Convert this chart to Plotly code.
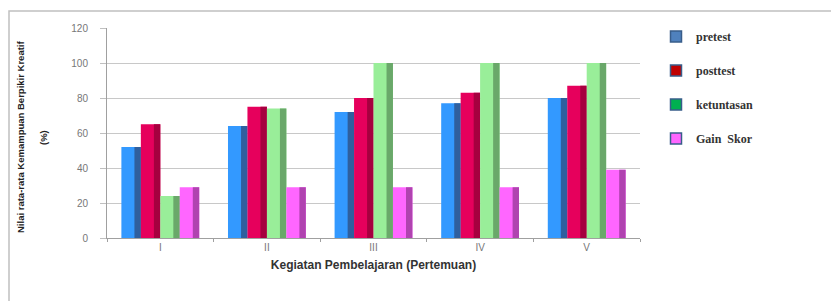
import plotly.graph_objects as go

categories = ["I", "II", "III", "IV", "V"]
pretest = [52, 64, 72, 77, 80]
posttest = [65, 75, 80, 83, 87]
ketuntasan = [24, 74, 100, 100, 100]
gain_skor = [29, 29, 29, 29, 39]
series_names = ["pretest", "posttest", "ketuntasan", "Gain  Skor"]
y_ticks = [0, 20, 40, 60, 80, 100, 120]

bar_colors = ["#3399ff", "#e6005c", "#99ee99", "#ff66ff"]
shade_colors = ["#2f5f9e", "#a6003f", "#6aa86a", "#b043b0"]
legend_colors = ["#4f81bd", "#c00000", "#00b050", "#ff66ff"]

GROUP_W = 0.73
BAR_W = GROUP_W / 4
SHADE_FRAC = 0.33

fig = go.Figure()
for i, (name, vals, col, scol) in enumerate(zip(series_names, [pretest, posttest, ketuntasan, gain_skor],
                                                 bar_colors, shade_colors)):
    off = -GROUP_W / 2 + i * BAR_W
    fig.add_trace(go.Bar(x=categories, y=vals, name=name, offset=off, width=BAR_W,
                         marker=dict(color=col, line=dict(width=0)), showlegend=False))
    fig.add_trace(go.Bar(x=categories, y=vals, name=name, offset=off + BAR_W * (1 - SHADE_FRAC),
                         width=BAR_W * SHADE_FRAC, hoverinfo="skip",
                         marker=dict(color=scol, line=dict(width=0)), showlegend=False))
for i, (name, col) in enumerate(zip(series_names, legend_colors)):
    fig.add_trace(go.Scatter(x=[None], y=[None], mode="markers", name=name, legendgroup="g%d" % i,
                             marker=dict(symbol="square", size=11, color=col,
                                         line=dict(color="#385d8a", width=1.5))))

# page offset of 8px (body margin) is accounted for
OFF = 8
W, H = 839 - OFF, 301 - OFF
PL, PR, PT, PB = 107, 640, 28, 238  # plot area in page pixels
L, R, T, B = PL - OFF, W - (PR - OFF), PT - OFF, H - (PB - OFF)
PW, PH = PR - PL, PB - PT


def px(x):
    return (x - PL) / PW


def py(y):
    return (PB - y) / PH


fig.update_layout(
    width=W, height=H,
    margin=dict(l=L, r=R, t=T, b=B),
    paper_bgcolor="white", plot_bgcolor="white",
    barmode="overlay",
    font=dict(family="Liberation Sans, Arial, sans-serif", color="#555555"),
    legend=dict(x=px(656), y=py(22), xanchor="left", yanchor="top",
                font=dict(family="Liberation Serif, Times New Roman, serif", size=12, color="#333333",
                          weight="bold"),
                tracegroupgap=15, bgcolor="rgba(0,0,0,0)"),
    xaxis=dict(showline=True, linecolor="#a0a0a0", ticks="outside", ticklen=3, tickcolor="#a0a0a0",
               tickson="boundaries", tickfont=dict(size=10, color="#777777"),
               title=dict(text="<b>Kegiatan Pembelajaran (Pertemuan)</b>",
                          font=dict(size=12, color="#333333"), standoff=8)),
    yaxis=dict(range=[0, 120], tickvals=y_ticks, showline=True, linecolor="#a0a0a0",
               gridcolor="#c8c8c8", gridwidth=1, ticks="outside", ticklen=6, tickcolor="#c0c0c0",
               tickfont=dict(size=10, color="#777777"), ticklabelstandoff=10, zeroline=False),
    shapes=[dict(type="rect", xref="paper", yref="paper",
                 x0=px(9), x1=px(850), y0=py(310), y1=py(11),
                 line=dict(color="#c0c0c0", width=1.5), layer="below")],
    annotations=[
        dict(text="<b>Nilai rata-rata Kemampuan Berpikir Kreatif</b>", textangle=-90,
             xref="paper", yref="paper", x=px(20), y=py(137), xanchor="center", yanchor="middle",
             showarrow=False, font=dict(size=9.5, color="#222222")),
        dict(text="<b>(%)</b>", textangle=-90,
             xref="paper", yref="paper", x=px(43), y=py(138), xanchor="center", yanchor="middle",
             showarrow=False, font=dict(size=9.5, color="#222222")),
    ],
)

fig.write_html("out.html")
